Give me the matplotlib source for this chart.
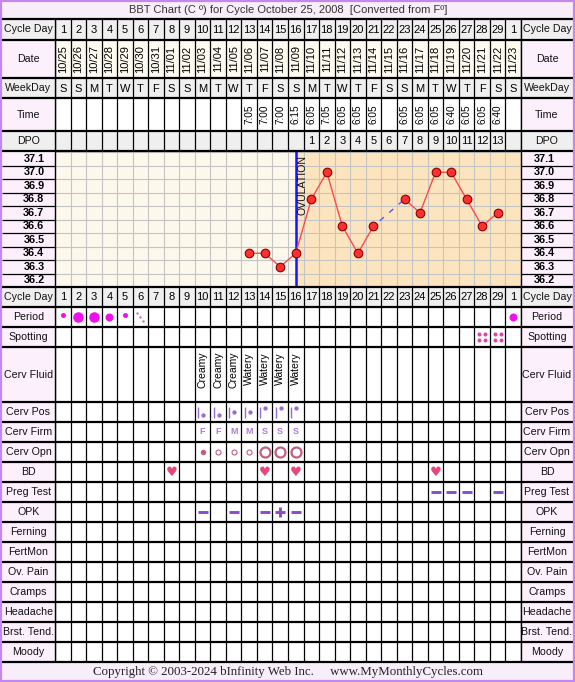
import numpy as np
import matplotlib
matplotlib.use('Agg')
import matplotlib.pyplot as plt
from matplotlib.patches import Rectangle

plt.rcParams['font.family'] = ['Liberation Sans', 'DejaVu Sans']

# ---- chart data ----
cycle_days = [str(d) for d in range(1, 30)] + ['1']
dates = ['10/25', '10/26', '10/27', '10/28', '10/29', '10/30', '10/31',
         '11/01', '11/02', '11/03', '11/04', '11/05', '11/06', '11/07', '11/08',
         '11/09', '11/10', '11/11', '11/12', '11/13', '11/14', '11/15', '11/16',
         '11/17', '11/18', '11/19', '11/20', '11/21', '11/22', '11/23']
weekdays = list('SSMTWTFSSMTWTFSSMTWTFSSMTWTFSS')
times = [''] * 12 + ['7:05', '7:00', '7:00', '6:15', '6:05', '7:05', '6:05', '6:05', '6:05', '',
                     '6:05', '6:05', '6:05', '6:40', '6:05', '6:05', '6:40', '']
dpo = [''] * 16 + [str(i) for i in range(1, 14)] + ['']

nan = np.nan
temps = [nan] * 12 + [36.4, 36.4, 36.3, 36.4, 36.8, 37.0, 36.6, 36.4, 36.6, nan,
                      36.8, 36.7, 37.0, 37.0, 36.8, 36.6, 36.7, nan]
temp_labels = ['37.1', '37.0', '36.9', '36.8', '36.7', '36.6', '36.5', '36.4', '36.3', '36.2']
ovulation_day = 16

period_days = [1, 2, 3, 4, 5, 6, 30]
period_flow = ['light', 'heavy', 'heavy', 'medium', 'light', 'spotting', 'medium']
spotting_days = [28, 29]
fluid_days = [10, 11, 12, 13, 14, 15, 16]
fluid_type = ['Creamy', 'Creamy', 'Creamy', 'Watery', 'Watery', 'Watery', 'Watery']
cpos_days = [10, 11, 12, 13, 14, 15, 16]
cpos_level = ['low', 'low', 'mid', 'mid', 'high', 'high', 'high']
cfirm_days = [10, 11, 12, 13, 14, 15, 16]
cfirm = ['F', 'F', 'M', 'M', 'S', 'S', 'S']
copn_days = [10, 11, 12, 13, 14, 15, 16]
copn = ['closed', 'medium', 'medium', 'medium', 'open', 'open', 'open']
bd_days = [8, 14, 16, 25]
preg_days = [25, 26, 27, 29]
preg_result = ['-', '-', '-', '-']
opk_days = [10, 12, 14, 15, 16]
opk_result = ['-', '-', '-', '+', '-']

# ---- layout (pixels) ----
W, H = 575, 682
X0, X1 = 55, 521          # day columns
NDAYS = 30
COLW = (X1 - X0) / NDAYS
TEMP_TOP, TEMP_BOT = 152, 287

GREY = '#efefef'
PINK = '#fdf0fd'
CREAM = '#fdfaef'
PURPLE_BORDER = '#c587ee'
BAND = '#f8eef9'

header_rows = [('Cycle Day', 19, 40, GREY, GREY),
               ('Date', 40, 78, PINK, CREAM),
               ('WeekDay', 78, 98, GREY, GREY),
               ('Time', 98, 131, PINK, 'white'),
               ('DPO', 131, 151, GREY, GREY)]
lower_labels = ['Cycle Day', 'Period', 'Spotting', 'Cerv Fluid', 'Cerv Pos', 'Cerv Firm',
                'Cerv Opn', 'BD', 'Preg Test', 'OPK', 'Ferning', 'FertMon', 'Ov. Pain',
                'Cramps', 'Headache', 'Brst. Tend.', 'Moody']
lower_heights = [20, 20, 20, 55] + [20] * 13
lower_tops = TEMP_BOT + np.concatenate([[0], np.cumsum(lower_heights)[:-1]])
row_top = dict()
for lab, t, h in zip(lower_labels[1:], lower_tops[1:], lower_heights[1:]):
    row_top[lab] = (t, h)

fig = plt.figure(figsize=(W / 100, H / 100), dpi=100)

# background / label axes in pixel coordinates
bg = fig.add_axes([0, 0, 1, 1])
bg.set_xlim(0, W)
bg.set_ylim(H, 0)
bg.axis('off')

# table axes: x in days, y in pixels
ax = fig.add_axes([X0 / W, 0, (X1 - X0) / W, 1])
ax.set_xlim(0.5, NDAYS + 0.5)
ax.set_ylim(H, 0)
ax.axis('off')
ax.patch.set_visible(False)

days = np.arange(1, NDAYS + 1)

# title band and footer
bg.add_patch(Rectangle((0, 0), W, 19, color=BAND))
bg.text(288, 10, 'BBT Chart (C º) for Cycle October 25, 2008  [Converted from Fº]',
        ha='center', va='center', fontsize=8, color='#333333')
bg.add_patch(Rectangle((0, 662), W, H - 662, color=BAND))
bg.text(288, 672, 'Copyright © 2003-2024 bInfinity Web Inc.     www.MyMonthlyCycles.com',
        ha='center', va='center', fontsize=9.3, color='#222222', family='Liberation Serif')


def label_cells(label, top, bottom, color):
    for lx, lw in [(2, X0 - 2), (X1, W - 2 - X1)]:
        bg.add_patch(Rectangle((lx, top), lw, bottom - top, color=color))
    bg.text((2 + X0) / 2, (top + bottom) / 2, label, ha='center', va='center',
            fontsize=7.7, color='#111111')
    t = bg.text((X1 + W - 2) / 2, (top + bottom) / 2, label, ha='center', va='center',
                fontsize=7.7, color='#111111')
    clip = Rectangle((X1, top), W - 2 - X1, bottom - top, transform=bg.transData)
    t.set_clip_path(clip)


# header rows
for label, top, bottom, lcol, ccol in header_rows:
    label_cells(label, top, bottom, lcol)
    ax.add_patch(Rectangle((0.5, top), NDAYS, bottom - top, color=ccol))
    ycen = (top + bottom) / 2
    if label == 'Cycle Day':
        for d, s in zip(days, cycle_days):
            ax.text(d, ycen + 0.5, s, ha='center', va='center', fontsize=8)
    elif label == 'Date':
        for d, s in zip(days, dates):
            ax.text(d, ycen, s, ha='center', va='center', fontsize=8, rotation=90)
    elif label == 'WeekDay':
        for d, s in zip(days, weekdays):
            ax.text(d, ycen + 0.5, s, ha='center', va='center', fontsize=8)
    elif label == 'Time':
        for d, s in zip(days, times):
            ax.text(d, ycen, s, ha='center', va='center', fontsize=7.2, rotation=90)
    elif label == 'DPO':
        for d, s in zip(days, dpo):
            ax.text(d, ycen + 0.5, s, ha='center', va='center', fontsize=8)
ax.vlines(np.arange(0.5, NDAYS + 1), 19, 151, color='black', lw=0.9)

# lower rows
for lab, t, h in zip(lower_labels, lower_tops, lower_heights):
    col = GREY if lab == 'Cycle Day' else PINK
    label_cells(lab, t, t + h, col)
    ax.add_patch(Rectangle((0.5, t), NDAYS, h, color=GREY if lab == 'Cycle Day' else 'white'))
for d, s in zip(days, cycle_days):
    ax.text(d, TEMP_BOT + 10.5, s, ha='center', va='center', fontsize=8)
ax.vlines(np.arange(0.5, NDAYS + 1), TEMP_BOT, 662, color='black', lw=0.9)

px = 72 / 100  # pixel -> points

# period
t, h = row_top['Period']
flow_size = {'light': 5, 'medium': 8, 'heavy': 10.5}
for d, f in zip(period_days, period_flow):
    if f == 'spotting':
        ax.plot([d - 3 / COLW, d, d + 3 / COLW], [t + 6, t + 10, t + 14], 'o',
                ms=2.4 * px, color='#e060e0', mew=0)
    else:
        yy = t + 10 if f != 'light' else t + 7.5
        ax.plot(d, yy, 'o', ms=flow_size[f] * px, color='#ee11ee', mew=0)

# spotting
t, h = row_top['Spotting']
for d in spotting_days:
    for dx in (-3.2, 3.2):
        for dy in (-3.3, 3.3):
            ax.plot(d + dx / COLW, t + 10 + dy, 'o', ms=4.0 * px, color='#e040b0', mew=0)

# cervical fluid
t, h = row_top['Cerv Fluid']
for d, s in zip(fluid_days, fluid_type):
    ax.text(d, t + 5, s, rotation=90, ha='center', va='top', fontsize=7.5)

# cervical position
t, h = row_top['Cerv Pos']
lev = {'low': 13, 'mid': 9.7, 'high': 6.3}
for d, s in zip(cpos_days, cpos_level):
    ax.vlines(d - 4.3 / COLW, t + 4.7, t + 15.7, color='#9a6ad6', lw=1.0)
    ax.plot(d + 0.7 / COLW, t + lev[s], 'o', ms=4.3 * px, color='#9a6ad6', mew=0)

# cervical firmness
t, h = row_top['Cerv Firm']
for d, s in zip(cfirm_days, cfirm):
    ax.text(d, t + 10, s, ha='center', va='center', fontsize=6.5, fontweight='bold',
            color='#b27ad6')

# cervical opening
t, h = row_top['Cerv Opn']
for d, s in zip(copn_days, copn):
    if s == 'closed':
        ax.plot(d, t + 10, 'o', ms=5.5 * px, color='#c0607e', mew=0)
    elif s == 'medium':
        ax.plot(d, t + 10, 'o', ms=5 * px, mfc='none', mec='#c0607e', mew=0.8)
    else:
        ax.plot(d, t + 10, 'o', ms=10 * px, mfc='none', mec='#c0607e', mew=1.6)

# intercourse
t, h = row_top['BD']
for d in bd_days:
    ax.text(d, t + 10, '\u2665', ha='center', va='center', fontsize=9.5,
            color='#e8457e', family='DejaVu Sans')

# preg test & OPK
for rowname, dd, rr in [('Preg Test', preg_days, preg_result), ('OPK', opk_days, opk_result)]:
    t, h = row_top[rowname]
    for d, r in zip(dd, rr):
        mk = '_' if r == '-' else '+'
        ax.plot(d, t + 10, mk, ms=10.5 * px, mew=2.1, color='#8a4bc8')

# ---- temperature chart ----
tx = fig.add_axes([X0 / W, (H - TEMP_BOT) / H, (X1 - X0) / W, (TEMP_BOT - TEMP_TOP) / H])
tx.set_xlim(0.5, NDAYS + 0.5)
tx.set_ylim(36.15, 37.15)
tx.axis('off')
tx.axvspan(0.5, NDAYS + 0.5, color='#fdf8ec', zorder=0)
tx.axvspan(ovulation_day, NDAYS + 0.5, color='#fce4bf', zorder=0)
for xv in np.arange(0.5, NDAYS + 1):
    tx.axvline(xv, color='#c4c4c4', lw=0.8, zorder=1)
temp_vals = [float(s) for s in temp_labels]
edges = [v + 0.05 for v in temp_vals] + [temp_vals[-1] - 0.05]
for yv in edges:
    tx.axhline(yv, color='#c4c4c4', lw=0.8, zorder=1)

# temp label columns
for lx, lw in [(2, X0 - 2), (X1, W - 2 - X1)]:
    bg.add_patch(Rectangle((lx, TEMP_TOP - 1), lw, TEMP_BOT - TEMP_TOP + 1, color=PINK))
ytr = tx.get_yaxis_transform()
for v, s in zip(temp_vals, temp_labels):
    tx.text((44.5 - X0) / (X1 - X0), v, s, transform=ytr, ha='right', va='center',
            fontsize=7.8, fontweight='bold', clip_on=False)
    tx.text((555 - X0) / (X1 - X0), v, s, transform=ytr, ha='right', va='center',
            fontsize=7.8, fontweight='bold', clip_on=False)
for lo, hi in [((2 - X0) / (X1 - X0), 0), (1, (W - 2 - X0) / (X1 - X0))]:
    tx.hlines(edges[1:-1], lo, hi, transform=ytr, color='black', lw=0.9, clip_on=False)

tx.axvline(ovulation_day, color='#1515ff', lw=1.8, zorder=3)
tx.text(ovulation_day + 0.42, 37.13, 'OVULATION', rotation=90, ha='center', va='top',
        fontsize=7.6, color='#111111', zorder=3)

tv = np.array(temps)
# dashed connectors across missing days
valid = np.where(~np.isnan(tv))[0]
for a, b in zip(valid[:-1], valid[1:]):
    if b - a > 1:
        tx.plot([days[a], days[b]], [tv[a], tv[b]], color='#5555ff', lw=1.0,
                linestyle=(3, (4, 5)), zorder=4)
tx.plot(days, tv, color='#ff4a4a', lw=1.0, zorder=5)
tx.plot(days, tv, 'o', ms=6.2, mfc='#ff3030', mec='#8a0000', mew=0.8, zorder=6)

# ---- overlay lines ----
ov = fig.add_axes([0, 0, 1, 1])
ov.set_xlim(0, W)
ov.set_ylim(H, 0)
ov.axis('off')
ov.patch.set_visible(False)
hlines = [19] + [r[2] for r in header_rows] + [TEMP_BOT] + list(lower_tops[1:]) + [662]
ov.hlines(hlines, 2, W - 2, color='black', lw=1.6)
ov.vlines([X0, X1], 19, 662, color='black', lw=1.0)
ov.vlines([1, W - 1], 0, H, color=PURPLE_BORDER, lw=1.6)
ov.hlines([0.8, H - 1], 0, W, color=PURPLE_BORDER, lw=1.6)

fig.savefig('out.png', dpi=100)
